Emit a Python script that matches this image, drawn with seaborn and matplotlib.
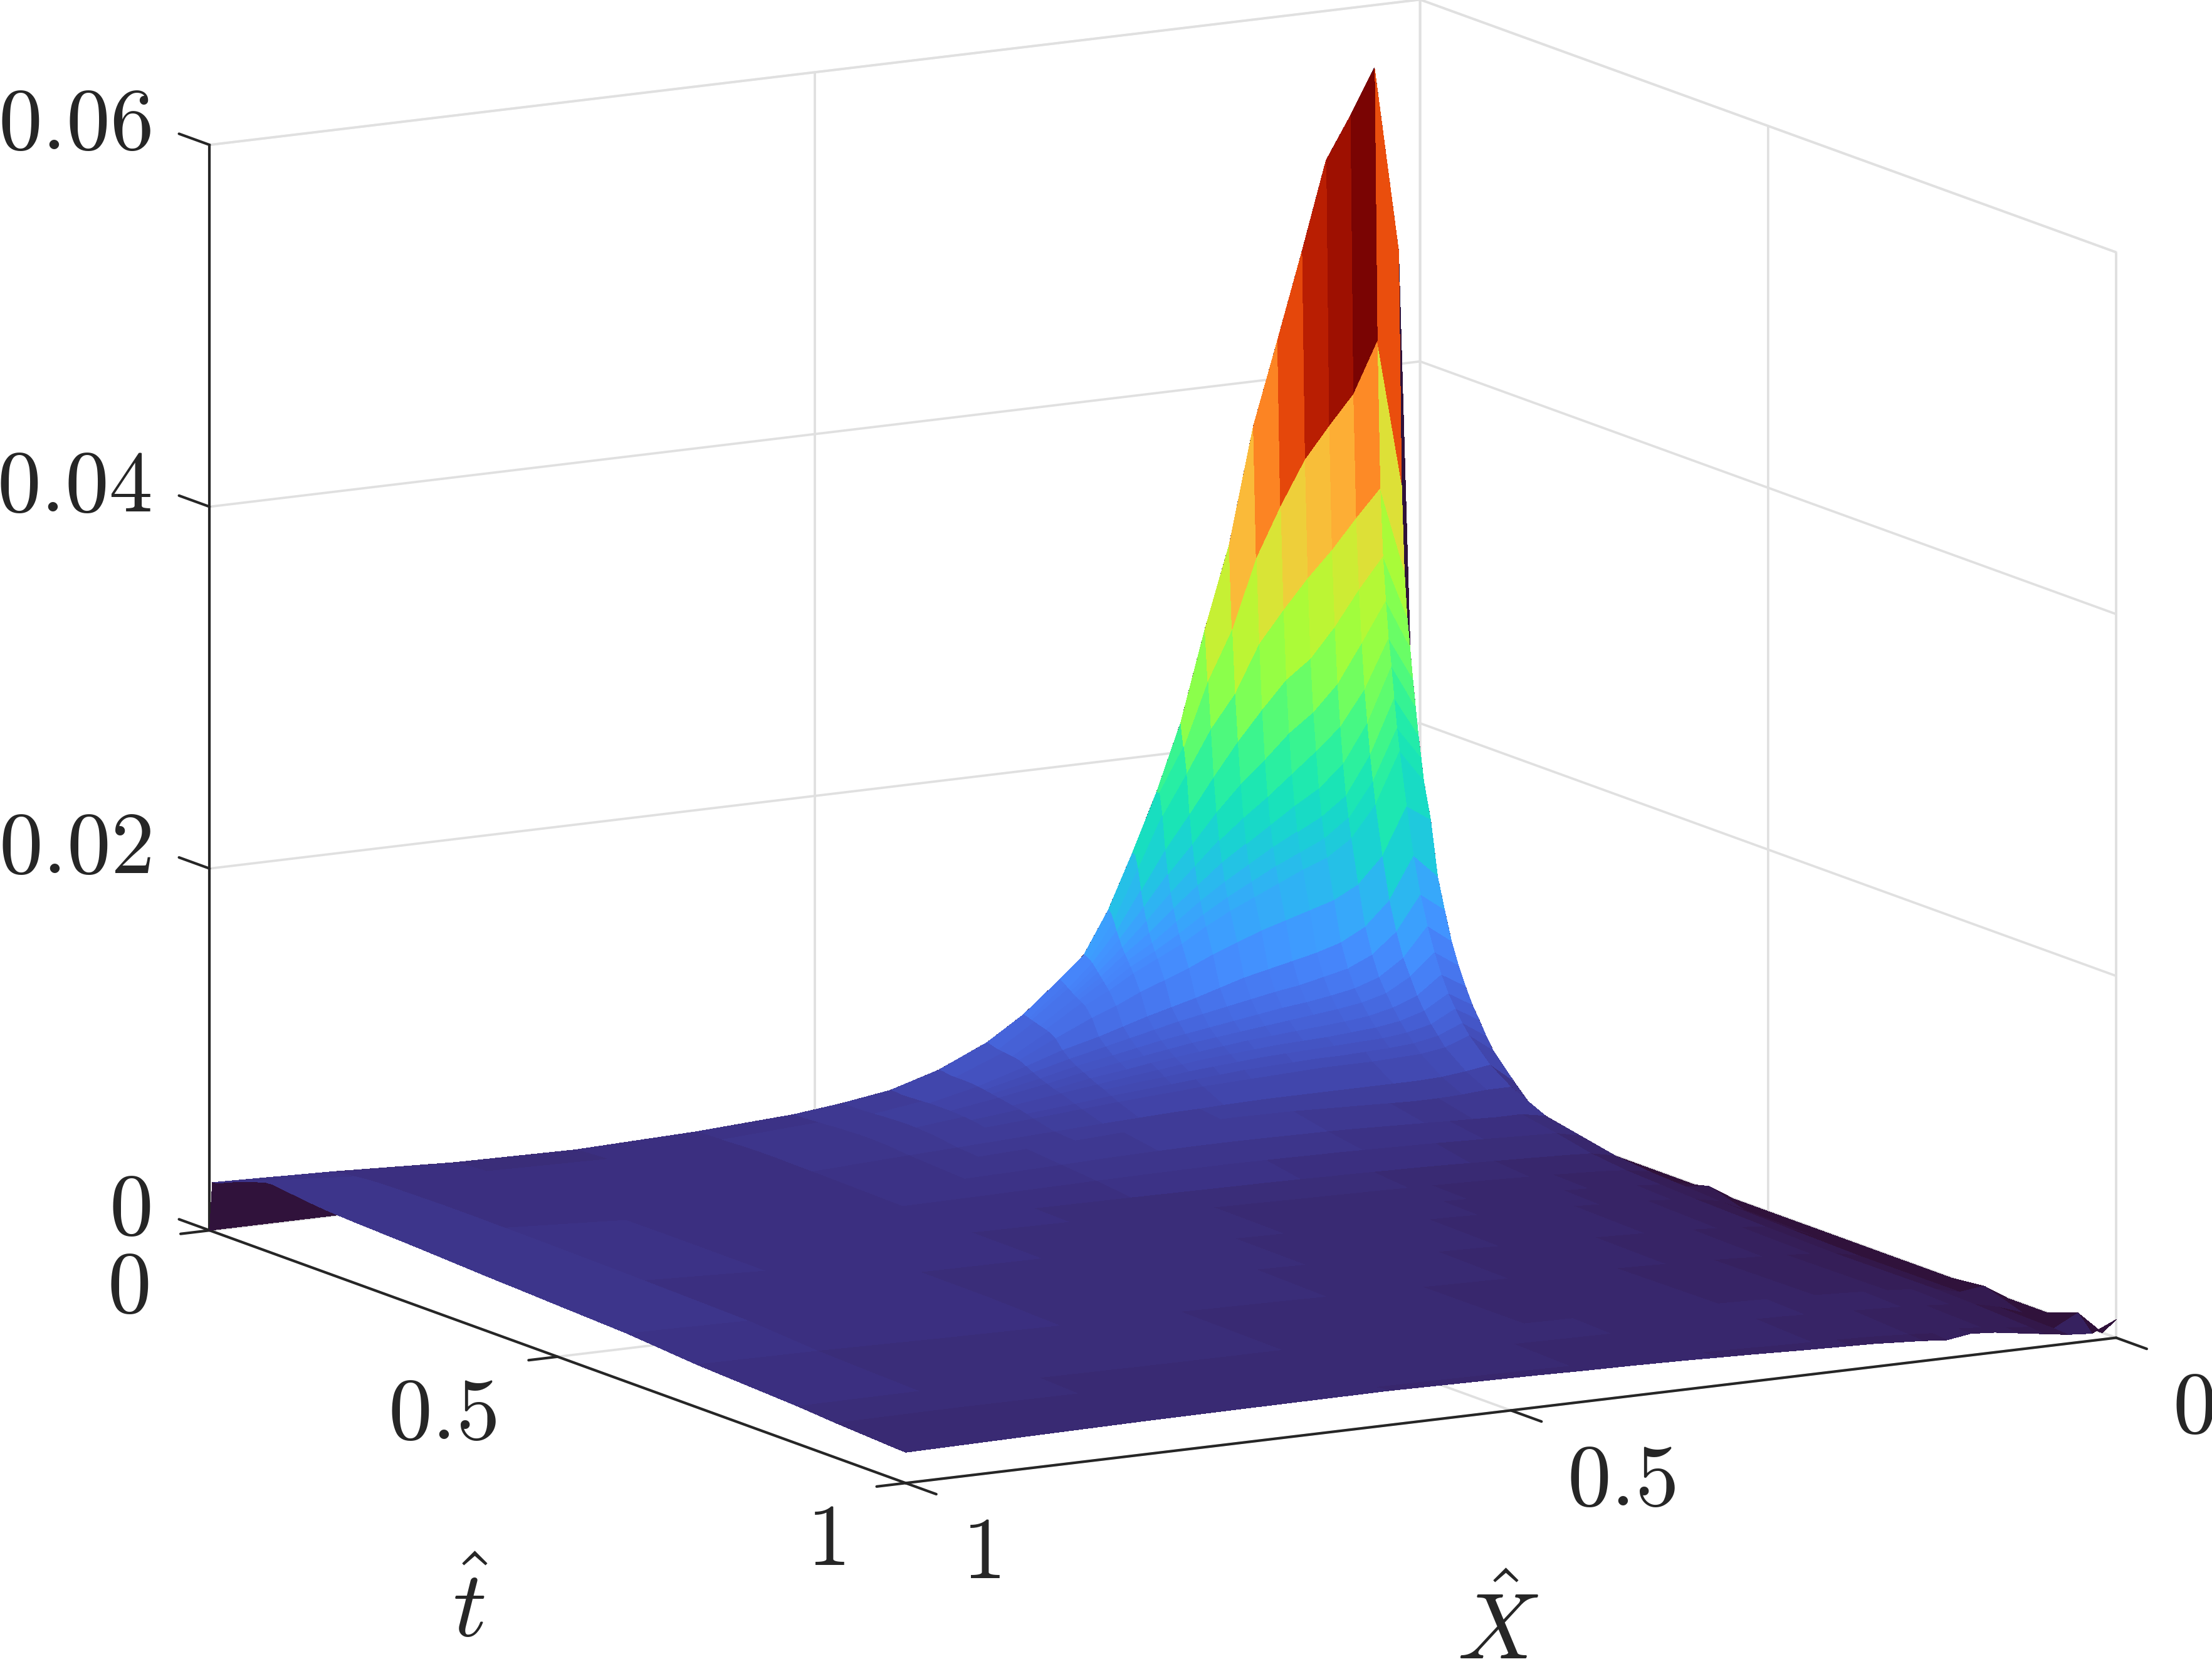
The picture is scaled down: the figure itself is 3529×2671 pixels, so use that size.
import numpy as np
import matplotlib
matplotlib.use('Agg')
import matplotlib.pyplot as plt
from matplotlib.transforms import ScaledTranslation
import seaborn as sns

sns.set_theme(style='white')
plt.rcParams['mathtext.fontset'] = 'cm'
plt.rcParams['text.color'] = '#262626'

x_hat = [0, .02, .04, .06, .08, .10, .12, .14, .16, .18, .20, .22, .24, .26, .28, .30, .33, .36, .40, .44, .48, .52,
         .60, .70, .80, .90, 1]
t_hat = [0, .004, .008, .012, .016, .02, .024, .028, .032, .036, .04, .05, .06, .07, .08, .09, .10, .11, .12, .13, .14,
         .17, .20, .25, .30, .35, .40, .45, .50, .60, .70, .845, .90, .98, 1]

# surface heights, in units of 1e-5, one row per t_hat
z_rows = [
    [0] * 27,
    [0, 4630, 5660, 5410, 5180, 4690, 4220, 3760, 3120, 2670, 2170, 1800, 1480, 1180, 950, 830, 660, 530, 410, 330, 290, 260, 230, 210, 220, 250, 270],
    [0, 3360, 4160, 3880, 3720, 3550, 3310, 3040, 2660, 2390, 2040, 1800, 1470, 1170, 945, 820, 655, 525, 410, 330, 290, 260, 230, 212, 222, 252, 275],
    [0, 2880, 3350, 3200, 3040, 2900, 2740, 2570, 2310, 2130, 1900, 1680, 1400, 1130, 935, 810, 650, 520, 408, 330, 290, 260, 232, 214, 224, 254, 280],
    [0, 2630, 2980, 2810, 2620, 2460, 2360, 2210, 2050, 1870, 1680, 1500, 1290, 1080, 920, 795, 645, 515, 405, 328, 290, 260, 232, 215, 226, 256, 285],
    [0, 2470, 2740, 2520, 2310, 2170, 2070, 1940, 1820, 1680, 1520, 1370, 1200, 1040, 900, 785, 640, 512, 403, 327, 290, 260, 233, 216, 228, 258, 292],
    [0, 2300, 2540, 2270, 2080, 1960, 1850, 1740, 1640, 1530, 1400, 1270, 1130, 1000, 880, 775, 635, 510, 402, 327, 290, 262, 233, 217, 229, 260, 300],
    [0, 2150, 2390, 2090, 1880, 1760, 1680, 1590, 1500, 1410, 1300, 1190, 1070, 970, 860, 765, 630, 508, 402, 327, 290, 262, 234, 218, 230, 262, 306],
    [0, 2000, 2220, 1920, 1710, 1610, 1540, 1470, 1390, 1310, 1220, 1120, 1020, 940, 840, 755, 625, 506, 402, 328, 291, 264, 234, 219, 231, 264, 312],
    [0, 1880, 2060, 1780, 1590, 1490, 1430, 1370, 1300, 1230, 1150, 1060, 980, 910, 820, 745, 620, 504, 402, 329, 292, 265, 235, 220, 232, 266, 318],
    [0, 1750, 1930, 1650, 1480, 1390, 1340, 1280, 1220, 1160, 1090, 1010, 945, 880, 800, 735, 615, 502, 402, 330, 293, 266, 235, 221, 233, 268, 324],
    [0, 1550, 1640, 1380, 1240, 1170, 1130, 1090, 1050, 1000, 950, 890, 840, 790, 730, 680, 590, 495, 400, 332, 295, 268, 236, 222, 235, 272, 340],
    [0, 1250, 1380, 1150, 1020, 950, 910, 880, 850, 820, 780, 740, 705, 670, 630, 590, 540, 475, 395, 335, 298, 272, 238, 223, 236, 275, 352],
    [0, 1080, 1180, 990, 880, 820, 790, 760, 740, 715, 690, 665, 640, 610, 580, 550, 505, 455, 390, 335, 300, 274, 240, 224, 237, 277, 365],
    [0, 920, 1020, 860, 770, 725, 700, 680, 665, 645, 625, 605, 585, 565, 540, 515, 480, 435, 382, 335, 302, 276, 241, 224, 238, 278, 378],
    [0, 800, 890, 770, 695, 660, 640, 625, 610, 595, 580, 565, 550, 530, 510, 490, 460, 420, 375, 335, 303, 278, 242, 225, 239, 279, 380],
    [0, 700, 780, 680, 630, 600, 585, 575, 565, 555, 545, 530, 515, 500, 485, 465, 440, 405, 368, 333, 304, 280, 243, 225, 239, 280, 376],
    [0, 610, 690, 610, 570, 550, 540, 530, 525, 520, 510, 500, 490, 475, 460, 445, 420, 395, 360, 330, 303, 280, 243, 225, 240, 281, 371],
    [0, 540, 620, 550, 520, 505, 500, 495, 490, 485, 480, 470, 460, 450, 435, 425, 405, 380, 352, 325, 300, 279, 243, 225, 240, 282, 366],
    [0, 465, 555, 500, 475, 465, 460, 455, 455, 450, 445, 440, 430, 420, 410, 400, 385, 365, 342, 320, 298, 278, 242, 225, 241, 282, 361],
    [0, 400, 500, 450, 430, 425, 420, 420, 420, 415, 410, 405, 400, 395, 385, 378, 365, 350, 330, 312, 294, 276, 241, 226, 241, 283, 356],
    [0, 270, 380, 360, 345, 340, 340, 340, 340, 340, 340, 340, 338, 335, 330, 328, 320, 312, 300, 288, 276, 265, 240, 226, 242, 284, 345],
    [0, 150, 300, 300, 290, 285, 285, 290, 295, 300, 305, 310, 312, 314, 314, 314, 312, 306, 292, 278, 267, 258, 238, 227, 243, 284, 338],
    [0, 60, 210, 235, 235, 240, 245, 250, 255, 260, 265, 268, 270, 272, 274, 275, 275, 273, 268, 260, 253, 247, 234, 227, 244, 282, 330],
    [0, 50, 170, 200, 205, 210, 215, 220, 225, 228, 232, 235, 238, 240, 242, 244, 246, 246, 244, 242, 238, 235, 230, 227, 245, 280, 322],
    [0, 40, 130, 158, 165, 170, 175, 180, 185, 190, 194, 197, 200, 203, 205, 208, 211, 213, 216, 219, 221, 223, 227, 227, 245, 277, 312],
    [0, 35, 110, 135, 145, 152, 158, 163, 168, 172, 176, 179, 182, 185, 187, 190, 193, 197, 202, 208, 213, 218, 224, 227, 244, 274, 302],
    [0, 85, 100, 125, 137, 146, 152, 157, 162, 167, 171, 174, 177, 181, 184, 187, 191, 195, 200, 205, 210, 215, 222, 226, 243, 270, 294],
    [0, 25, 88, 115, 128, 138, 145, 150, 156, 161, 165, 169, 172, 176, 179, 183, 187, 192, 197, 202, 207, 212, 220, 225, 242, 266, 285],
    [0, 20, 75, 104, 116, 126, 134, 140, 146, 151, 155, 159, 163, 167, 171, 175, 180, 186, 191, 197, 202, 207, 216, 222, 238, 257, 268],
    [0, 20, 66, 95, 108, 118, 125, 132, 138, 143, 148, 152, 156, 160, 164, 168, 172, 176, 181, 187, 192, 197, 205, 209, 218, 230, 236],
    [0, 85, 68, 100, 115, 125, 133, 140, 146, 151, 156, 160, 164, 166, 169, 172, 176, 179, 182, 186, 189, 192, 196, 198, 203, 210, 208],
    [0, 15, 62, 94, 108, 118, 126, 132, 138, 143, 148, 152, 155, 158, 161, 164, 168, 171, 174, 178, 181, 184, 188, 190, 193, 196, 192],
    [0, 125, 55, 78, 92, 108, 118, 108, 118, 126, 132, 136, 139, 142, 146, 150, 155, 160, 164, 168, 172, 175, 180, 180, 180, 178, 174],
    [100, 40, 50, 70, 90, 110, 120, 100, 112, 120, 128, 132, 136, 140, 145, 150, 156, 162, 168, 172, 178, 182, 190, 188, 185, 178, 170],
]

x_ticks = [0, 0.5, 1]
t_ticks = [0, 0.5, 1]
z_ticks = [0, 0.02, 0.04, 0.06]
x_tick_labels = ['$0$', '$0.5$', '$1$']
t_tick_labels = ['$0$', '$0.5$', '$1$']
z_tick_labels = ['$0$', '$0.02$', '$0.04$', '$0.06$']

Z = np.array(z_rows) * 1e-5
XX, TT = np.meshgrid(x_hat, t_hat)

# flat colouring, each cell takes the colour of its first vertex
cmap = sns.color_palette('turbo', as_cmap=True)
face_colors = cmap(Z / Z.max())

fig = plt.figure(figsize=(3529 / 300, 2671 / 300), dpi=300)
ax = fig.add_axes([0.0122, -0.1213, 1, 1.3212], projection='3d', proj_type='ortho')
ax.set_box_aspect((1, 1, 0.795), zoom=0.9942)
ax.view_init(elev=12.05, azim=60.1)

ax.plot_surface(XX, TT, Z, facecolors=face_colors, rstride=1, cstride=1,
                shade=False, linewidth=0, antialiased=False)

ax.set_xlim(0, 1, view_margin=0)
ax.set_ylim(0, 1, view_margin=0)
ax.set_zlim(0, 0.06, view_margin=0)
ax.set_xticks(x_ticks, x_tick_labels)
ax.set_yticks(t_ticks, t_tick_labels)
ax.set_zticks(z_ticks, z_tick_labels)
ax.zaxis.set_ticks_position('lower')
# z ticks run along the t direction here
ax.zaxis._get_tickdir = lambda position: 1

for axis in (ax.xaxis, ax.yaxis, ax.zaxis):
    axis.pane.set_facecolor('white')
    axis.pane.set_edgecolor('#dcdcdc')
    axis.pane.set_linewidth(0.9)
    axis.line.set_color('#262626')
    axis.line.set_linewidth(1.0)
    axis._axinfo['grid'].update(color='#e0e0e0', linewidth=0.9)
    axis._axinfo['tick']['linewidth'] = {True: 1.0, False: 1.0}
    axis.set_tick_params(colors='#262626', labelsize=33.5, pad=0)

ax.xaxis._axinfo['tick'].update(inward_factor=0.55, outward_factor=0)
ax.yaxis._axinfo['tick'].update(inward_factor=0.3, outward_factor=0)
ax.zaxis._axinfo['tick'].update(inward_factor=0, outward_factor=0.55)


def place_labels(axis, ha, dx, dy):
    # axis3d resets the transform of tick labels on each draw, so freeze it
    shift = ax.transData + ScaledTranslation(dx / 72, dy / 72, fig.dpi_scale_trans)
    for tick in axis.get_major_ticks():
        tick.label1.set_ha(ha)
        tick.label1.set_va('center')
        tick.label1.set_transform(shift)
        tick.label1.set_transform = lambda t: None


place_labels(ax.xaxis, 'left', 16.7, -17.7)
place_labels(ax.yaxis, 'right', -15, -13.5)
place_labels(ax.zaxis, 'right', -9.3, 6.9)

fig.text(333 / 1568, 1 - 1142 / 1187, r'$\hat{t}$', fontsize=36, ha='center', va='center')
fig.text(1062 / 1568, 1 - 1157 / 1187, r'$\hat{X}$', fontsize=36, ha='center', va='center')

fig.savefig('out.png', dpi=300, facecolor='white')
